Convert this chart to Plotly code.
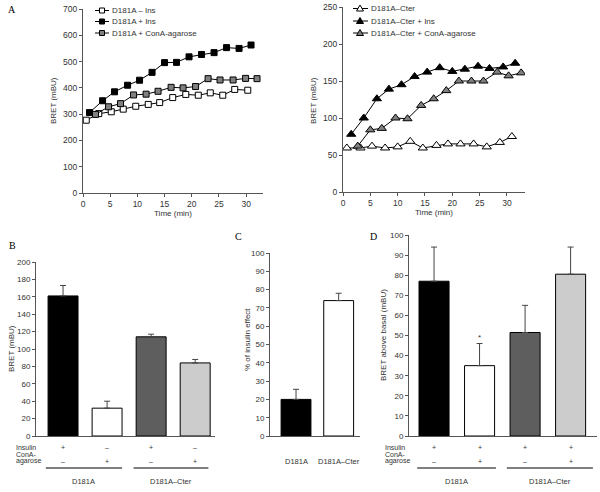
import plotly.graph_objects as go

# ---------------- DATA ----------------
# Panel A (left): D181A time courses
t_ins_minus = [0.6, 2.9, 5.2, 7.4, 9.7, 12.0, 14.1, 16.5, 18.9, 21.2, 23.4, 25.7, 27.9, 30.3]
v_ins_minus = [277, 302, 309, 319, 330, 337, 344, 363, 375, 372, 381, 372, 394, 391]
t_ins_plus = [1.2, 3.6, 5.8, 8.2, 10.4, 12.7, 15.0, 17.2, 19.5, 21.8, 24.1, 26.4, 28.7, 30.9]
v_ins_plus = [306, 351, 385, 410, 429, 459, 496, 497, 518, 527, 534, 553, 550, 563]
t_cona = [2.3, 4.7, 6.9, 9.3, 11.6, 13.8, 16.2, 18.4, 20.7, 23.0, 25.2, 27.6, 29.9, 32.0]
v_cona = [299, 328, 340, 373, 376, 387, 402, 400, 405, 435, 430, 430, 436, 435]

# Panel A (right): D181A-Cter time courses
t_cter = [0.7, 3.2, 5.3, 7.7, 10.0, 12.3, 14.6, 17.1, 19.2, 21.5, 23.9, 26.3, 28.7, 30.9]
v_cter = [59.5, 59.5, 62, 59.5, 61, 68.5, 59.5, 63, 65, 65, 65, 61, 67, 75]
t_cter_ins = [1.5, 3.8, 6.2, 8.4, 10.7, 13.1, 15.4, 17.7, 20.0, 22.3, 24.7, 26.8, 29.3, 31.5]
v_cter_ins = [78, 100, 126, 139, 145, 156, 162, 168, 163, 166, 170, 167, 169, 174]
t_cter_cona = [2.7, 5.0, 7.1, 9.6, 11.8, 14.3, 16.6, 18.9, 21.2, 23.5, 25.7, 28.2, 30.3, 32.6]
v_cter_cona = [62, 84, 86, 100, 99, 117, 126, 137, 150, 150, 150, 162, 157, 161]

legend_a1 = ["D181A \u2013 Ins", "D181A + Ins", "D181A + ConA-agarose"]
legend_a2 = ["D181A\u2013Cter", "D181A\u2013Cter + Ins", "D181A\u2013Cter + ConA-agarose"]
series_fill = ["white", "black", "#808080"]

# Panel B
b_cats = ["D181A ins", "D181A cona", "Cter ins", "Cter cona"]
b_vals = [161, 32, 114, 84]
b_err = [12, 8, 3, 4]
b_insulin = ["+", "\u2013", "+", "\u2013"]
b_cona = ["\u2013", "+", "\u2013", "+"]

# Panel C
c_cats = ["D181A", "D181A\u2013Cter"]
c_vals = [20, 74]
c_err = [5.5, 4]

# Panel D
d_cats = ["D181A ins", "D181A ins cona", "Cter ins", "Cter ins cona"]
d_vals = [77, 35, 51.5, 80.5]
d_err = [17, 11, 13.5, 13.5]
d_insulin = ["+", "+", "+", "+"]
d_cona = ["\u2013", "+", "\u2013", "+"]

groups = ["D181A", "D181A\u2013Cter"]
bar_colors = ["#000000", "#ffffff", "#5e5e5e", "#cccccc"]

FONT = "Liberation Sans, Arial, sans-serif"
TXT = "#333333"
AX = "#555555"

W, H = 600, 492


def X(p):
    return min(1.0, max(0.0, p / W))


def Y(p):
    return min(1.0, max(0.0, 1 - p / H))


fig = go.Figure()
line = dict(color="black", width=1)

# ---- Panel A left ----
for tx, ty, nm, fc in zip([t_ins_minus, t_ins_plus, t_cona], [v_ins_minus, v_ins_plus, v_cona], legend_a1, series_fill):
    fig.add_trace(go.Scatter(x=tx, y=ty, name=nm, mode="lines+markers", line=line, showlegend=False,
                             marker=dict(symbol="square", size=6, color=fc, line=dict(color="black", width=1)),
                             xaxis="x", yaxis="y"))
# ---- Panel A right ----
for tx, ty, nm, fc in zip([t_cter, t_cter_ins, t_cter_cona], [v_cter, v_cter_ins, v_cter_cona], legend_a2, series_fill):
    fig.add_trace(go.Scatter(x=tx, y=ty, name=nm, mode="lines+markers", line=line, showlegend=False,
                             marker=dict(symbol="triangle-up", size=8, color=fc, line=dict(color="black", width=1)),
                             xaxis="x2", yaxis="y2"))

err_style = dict(type="data", symmetric=False, color="#444444", thickness=1, width=3)

fig.add_trace(go.Bar(x=b_cats, y=b_vals, marker=dict(color=bar_colors, line=dict(color="black", width=1)),
                     width=0.68, showlegend=False, xaxis="x3", yaxis="y3",
                     error_y=dict(array=b_err, arrayminus=[0] * len(b_err), **err_style)))
fig.add_trace(go.Bar(x=c_cats, y=c_vals, marker=dict(color=bar_colors[:2], line=dict(color="black", width=1)),
                     width=0.7, showlegend=False, xaxis="x4", yaxis="y4",
                     error_y=dict(array=c_err, arrayminus=[0] * len(c_err), **err_style)))
fig.add_trace(go.Bar(x=d_cats, y=d_vals, marker=dict(color=bar_colors, line=dict(color="black", width=1)),
                     width=0.66, showlegend=False, xaxis="x5", yaxis="y5",
                     error_y=dict(array=d_err, arrayminus=[0] * len(d_err), **err_style)))


def ax(fs=8.5, **kw):
    base = dict(showline=True, linecolor=AX, linewidth=1, ticks="outside", ticklen=3, tickcolor=AX,
                showgrid=False, zeroline=False, tickfont=dict(size=fs, color=TXT, family=FONT),
                title_font=dict(size=8, color=TXT, family=FONT))
    base.update(kw)
    return base


fig.update_layout(
    width=W, height=H, margin=dict(l=0, r=0, t=0, b=0, autoexpand=False),
    plot_bgcolor="white", paper_bgcolor="white",
    font=dict(family=FONT, color=TXT, size=8),
    showlegend=False,
    xaxis=ax(domain=[X(83), X(263)], range=[0, 33.1], dtick=5, tick0=0, anchor="y",
             title=dict(text="Time (min)", standoff=1)),
    yaxis=ax(domain=[Y(193), Y(9)], range=[0, 700], dtick=100, anchor="x"),
    xaxis2=ax(domain=[X(343), X(525)], range=[0, 33.3], dtick=5, tick0=0, anchor="y2",
              title=dict(text="Time (min)", standoff=1)),
    yaxis2=ax(domain=[Y(192), Y(7)], range=[0, 250], dtick=50, anchor="x2"),
    xaxis3=ax(domain=[X(36), X(215)], range=[-0.614, 3.45], anchor="y3", ticks="", showticklabels=False),
    yaxis3=ax(fs=8, domain=[Y(436), Y(262)], range=[0, 200], dtick=20, anchor="x3"),
    xaxis4=ax(domain=[X(270), X(360)], range=[-0.61, 1.5], anchor="y4", ticks="", showticklabels=False),
    yaxis4=ax(fs=8, domain=[Y(436), Y(253)], range=[0, 100], dtick=10, anchor="x4"),
    xaxis5=ax(domain=[X(409), X(597)], range=[-0.55, 3.58], anchor="y5", ticks="", showticklabels=False),
    yaxis5=ax(fs=8, domain=[Y(436), Y(235)], range=[0, 100], dtick=10, anchor="x5"),
)

ann = []
shapes = []

# y-axis titles
for txt, px, pyy in [("BRET (mBU)", 53, 101), ("BRET (mBU)", 313, 100), ("BRET (mBU)", 11, 349),
                     ("% of insulin effect", 247, 340), ("BRET above basal (mBU)", 383, 335)]:
    ann.append(dict(text=txt, x=X(px), y=Y(pyy), xref="paper", yref="paper", showarrow=False, textangle=-90,
                    xanchor="center", yanchor="middle", font=dict(size=8, color=TXT)))


# custom compact legends
def legend(names, fills, symbol, line_x0, line_x1, mark_x, text_x, rows):
    for nm, fc, ry in zip(names, fills, rows):
        shapes.append(dict(type="line", xref="paper", yref="paper", x0=X(line_x0), x1=X(line_x1),
                           y0=Y(ry), y1=Y(ry), line=dict(color="black", width=1)))
        if symbol == "square":
            shapes.append(dict(type="rect", xref="paper", yref="paper", xsizemode="pixel", ysizemode="pixel",
                               xanchor=X(mark_x), yanchor=Y(ry), x0=-2.5, x1=2.5, y0=-2.5, y1=2.5,
                               fillcolor=fc, line=dict(color="black", width=1)))
        else:
            shapes.append(dict(type="path", xref="paper", yref="paper", xsizemode="pixel", ysizemode="pixel",
                               xanchor=X(mark_x), yanchor=Y(ry), path="M-3.5,-2.5 L3.5,-2.5 L0,3.5 Z",
                               fillcolor=fc, line=dict(color="black", width=1)))
        ann.append(dict(text=nm, x=X(text_x), y=Y(ry), xref="paper", yref="paper", showarrow=False,
                        xanchor="left", yanchor="middle", font=dict(size=8, color=TXT)))


legend(legend_a1, series_fill, "square", 95, 109, 102, 110, [10.5, 21.5, 33])
legend(legend_a2, series_fill, "triangle", 353, 368, 360, 369, [8.5, 21, 33])

# panel letters
for letter, px, pyy in [("A", 12, 10), ("B", 12, 245), ("C", 238, 236), ("D", 373, 236)]:
    ann.append(dict(text=letter, x=X(px), y=Y(pyy), xref="paper", yref="paper", showarrow=False,
                    font=dict(family="Liberation Serif, serif", size=10, color="black"),
                    xanchor="center", yanchor="middle"))


def cond_rows(xref, cats, ins, cona, left_px, underlines):
    for lbl, yy in [("Insulin", 447), ("ConA-", 454), ("agarose", 461)]:
        ann.append(dict(text=lbl, x=X(left_px), y=Y(yy), xref="paper", yref="paper", showarrow=False,
                        xanchor="left", yanchor="middle", font=dict(size=7, color=TXT)))
    for c, s1, s2 in zip(cats, ins, cona):
        ann.append(dict(text=s1, x=c, y=Y(447), xref=xref, yref="paper", showarrow=False,
                        xanchor="center", yanchor="middle", font=dict(size=7, color=TXT)))
        ann.append(dict(text=s2, x=c, y=Y(461), xref=xref, yref="paper", showarrow=False,
                        xanchor="center", yanchor="middle", font=dict(size=7, color=TXT)))
    for g, (x0, x1) in zip(groups, underlines):
        shapes.append(dict(type="line", xref=xref, yref="paper", x0=x0, x1=x1, y0=Y(468), y1=Y(468),
                           line=dict(color="black", width=1)))
        ann.append(dict(text=g, x=(x0 + x1) / 2, y=Y(481), xref=xref, yref="paper", showarrow=False,
                        xanchor="center", yanchor="middle", font=dict(size=7.5, color=TXT)))


cond_rows("x3", b_cats, b_insulin, b_cona, 14, [(-0.39, 1.34), (1.6, 3.3)])
cond_rows("x5", d_cats, d_insulin, d_cona, 383, [(-0.37, 1.36), (1.6, 3.49)])

for c in c_cats:
    ann.append(dict(text=c, x=c, y=Y(461), xref="x4", yref="paper", showarrow=False,
                    xanchor="center", yanchor="middle", font=dict(size=7.5, color=TXT)))

ann.append(dict(text="*", x=d_cats[1], y=d_vals[1] + d_err[1], xref="x5", yref="y5", showarrow=False,
                xanchor="center", yanchor="bottom", font=dict(size=8, color=TXT)))

fig.update_layout(annotations=ann, shapes=shapes)
fig.write_html("out.html", config={"displayModeBar": False},
               post_script="document.body.style.margin='0px';")
